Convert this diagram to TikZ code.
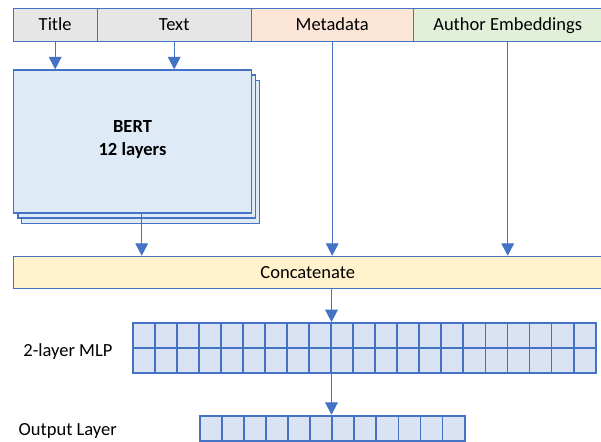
\documentclass[tikz,border=0pt]{standalone}
\usepackage{fontspec}
\setmainfont{Carlito}
\usetikzlibrary{arrows.meta}
\definecolor{edge}{HTML}{4472C4}
\definecolor{grayfill}{HTML}{E7E6E6}
\definecolor{orangefill}{HTML}{FBE5D6}
\definecolor{greenfill}{HTML}{E2F0D9}
\definecolor{bertfill}{HTML}{DEEBF7}
\definecolor{concatfill}{HTML}{FFF2CC}
\definecolor{cellfill}{HTML}{DAE3F3}
\begin{document}
\begin{tikzpicture}[x=1pt,y=-1pt,
  txt/.style={font=\fontsize{18.5}{22}\selectfont, text height=11.9pt, text depth=0pt},
  hdr/.style={draw=edge, line width=1pt, minimum height=32.7pt, inner sep=0pt, anchor=north west, txt},
  bertbox/.style={draw=edge, fill=bertfill, line width=1.3pt, minimum width=237.7pt, minimum height=143pt, inner sep=0pt, anchor=north west},
  mlpcell/.style={draw=edge, fill=cellfill, line width=1.8pt, minimum width=22.05pt, minimum height=25.15pt, inner sep=0pt, anchor=north west},
  outcell/.style={mlpcell, minimum height=25.3pt},
  lbl/.style={font=\fontsize{18.5}{22}\selectfont, inner sep=0pt, anchor=base west},
  conn/.style={draw=edge, line width=0.8pt, -{Triangle[width=12.7pt,length=12.3pt,fill=edge]}}
]
\useasboundingbox (0,0) rectangle (601,441);
\fill[white] (0,0) rectangle (601,441);

% header row
\node[hdr, fill=grayfill, minimum width=84pt] (title) at (12.7,8) {Title};
\node[hdr, fill=grayfill, minimum width=154pt] (text) at (96.7,8) {Text};
\node[hdr, fill=orangefill, minimum width=162pt] (meta) at (250.7,8) {Metadata};
\node[hdr, fill=greenfill, minimum width=189pt] (author) at (412.7,8) {Author Embeddings};

% BERT stack
\node[bertbox] (bert3) at (20.8,79.7) {};
\node[bertbox] (bert2) at (17.3,74.3) {};
\node[bertbox, font=\fontsize{18.5}{23.3}\selectfont\bfseries, align=center, text height=35.2pt, text depth=6.6pt] (bert) at (13,69.3) {BERT\\12 layers};

% Concatenate
\node[draw=edge, fill=concatfill, line width=1.1pt, minimum width=589pt, minimum height=32.3pt, inner sep=0pt, anchor=north west, txt] (concat) at (12.7,255.7) {Concatenate};

% MLP grid
\foreach \i in {0,...,20} {
  \foreach \j in {0,1} {
    \node[mlpcell] (m-\j-\i) at ({131.7+22.05*\i},{322+25.15*\j}) {};
  }
}
% Output layer
\foreach \i in {0,...,11} {
  \node[outcell] (o-\i) at ({199+22.06*\i},414.7) {};
}

% labels
\node[lbl] (mlplabel) at (23.2,356.7) {2-layer MLP};
\node[lbl] (outlabel) at (18.5,435) {Output Layer};

% connectors
\coordinate (bx) at (141.7,0);
\coordinate (mx) at (331.5,0);
\draw[conn] (title.south) -- (title.south |- bert.north);
\draw[conn] (text.south) -- (text.south |- bert.north);
\draw[conn] (meta.south) -- (meta.south |- concat.north);
\draw[conn] (author.south) -- (author.south |- concat.north);
\draw[conn] (bx |- bert.south) -- (bx |- concat.north);
\draw[conn] (mx |- concat.south) -- (mx |- m-0-9.north);
\draw[conn] (mx |- m-1-9.south) -- (mx |- o-5.north);
\end{tikzpicture}
\end{document}
